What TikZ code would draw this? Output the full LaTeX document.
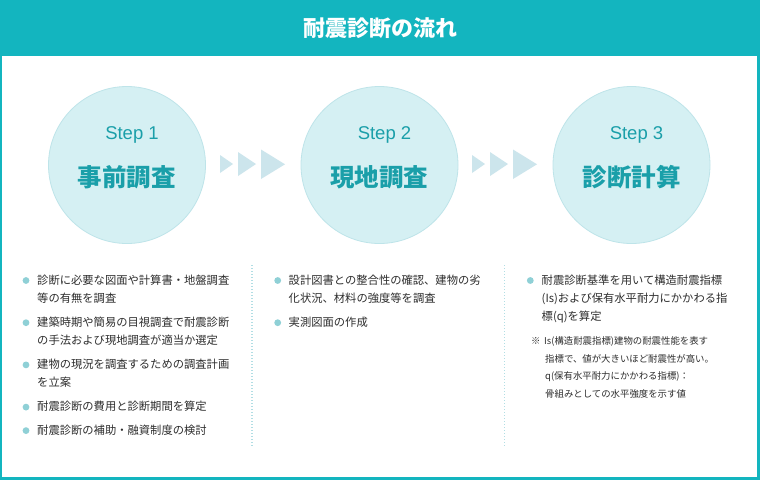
\documentclass[tikz,border=0pt]{standalone}
\usepackage{fontspec}
\setmainfont{Noto Sans CJK JP}
\newfontfamily\latinsans{Liberation Sans}
\definecolor{teal}{HTML}{13B5BF}
\definecolor{circfill}{HTML}{D5F0F3}
\definecolor{circedge}{HTML}{BEE4E9}
\definecolor{steptxt}{HTML}{1A9FA9}
\definecolor{arrowc}{HTML}{CCE5EC}
\definecolor{bulletc}{HTML}{8FD0D6}
\definecolor{txt}{HTML}{2E2E2E}
\definecolor{divc}{HTML}{B2DEE4}
\tikzset{
  circ/.style={circle, fill=circfill, draw=circedge, line width=0.8pt, minimum size=157pt, inner sep=0},
  steplbl/.style={anchor=base, inner sep=0, text=steptxt, font=\latinsans\fontsize{18.5}{20}\selectfont},
  mainlbl/.style={anchor=base, inner sep=0, text=steptxt, font=\bfseries\fontsize{24.5}{26}\selectfont},
  body/.style={anchor=base west, inner sep=0, text=txt, font=\fontsize{11.3}{13}\selectfont},
  note/.style={anchor=base west, inner sep=0, text=txt, font=\fontsize{9.4}{11}\selectfont},
  bul/.style={circle, fill=bulletc, minimum size=6.8pt, inner sep=0},
  tri/.style={fill=arrowc},
  divline/.style={draw=divc, line width=1.3pt, dash pattern=on 1.3pt off 1.7pt},
}
\begin{document}
\begin{tikzpicture}[x=1pt, y=-1pt]
\useasboundingbox (0,0) rectangle (760,480);
% frame
\fill[teal] (0,0) rectangle (760,480);
\fill[white] (2,56) rectangle (757,477);
\node[anchor=base, inner sep=0, text=white, font=\bfseries\fontsize{22}{24}\selectfont] (title) at (380,36) {耐震診断の流れ};

% circles
\node[circ] (s1) at (127,165) {};
\node[circ] (s2) at (379.5,165) {};
\node[circ] (s3) at (631.5,165) {};
\node[steplbl] (s1t) at (132,139.6) {Step 1};
\node[steplbl] (s2t) at (384.5,139.6) {Step 2};
\node[steplbl] (s3t) at (636.5,139.6) {Step 3};
\node[mainlbl] (s1m) at (126.5,186) {事前調査};
\node[mainlbl] (s2m) at (379,186) {現地調査};
\node[mainlbl] (s3m) at (631.5,186) {診断計算};

% arrow triangles
\foreach \dx in {0,252}{
  \fill[tri] (220+\dx,155) -- (220+\dx,173) -- (233+\dx,164) -- cycle;
  \fill[tri] (238+\dx,152) -- (238+\dx,176) -- (256+\dx,164) -- cycle;
  \fill[tri] (261+\dx,149.5) -- (261+\dx,179) -- (285+\dx,164.3) -- cycle;
}

% dividers
\coordinate (d1a) at (252,265); \coordinate (d1b) at (252,447);
\coordinate (d2a) at (504.5,265); \coordinate (d2b) at (504.5,447);
\draw[divline] (d1a) -- (d1b);
\draw[divline] (d2a) -- (d2b);

% column 1
\node[bul] (b11) at (26,280.5) {};
\node[body] (t11a) at (37,284.3) {診断に必要な図面や計算書・地盤調査};
\node[body] (t11b) at (37,302.5) {等の有無を調査};
\node[bul] (b12) at (26,322.7) {};
\node[body] (t12a) at (37,326.5) {建築時期や簡易の目視調査で耐震診断};
\node[body] (t12b) at (37,344.7) {の手法および現地調査が適当か選定};
\node[bul] (b13) at (26,364.9) {};
\node[body] (t13a) at (37,368.7) {建物の現況を調査するための調査計画};
\node[body] (t13b) at (37,386.9) {を立案};
\node[bul] (b14) at (26,407.1) {};
\node[body] (t14a) at (37,410.9) {耐震診断の費用と診断期間を算定};
\node[bul] (b15) at (26,430.6) {};
\node[body] (t15a) at (37,434.4) {耐震診断の補助・融資制度の検討};

% column 2
\node[bul] (b21) at (277.7,280.5) {};
\node[body] (t21a) at (288.5,284.3) {設計図書との整合性の確認、建物の劣};
\node[body] (t21b) at (288.5,302.5) {化状況、材料の強度等を調査};
\node[bul] (b22) at (277.7,322.7) {};
\node[body] (t22a) at (288.5,326.5) {実測図面の作成};

% column 3
\node[bul] (b31) at (530.3,280.5) {};
\node[body] (t31a) at (541.5,284.3) {耐震診断基準を用いて構造耐震指標};
\node[body] (t31b) at (541.5,302.5) {(Is)および保有水平耐力にかかわる指};
\node[body] (t31c) at (541.5,320.7) {標(q)を算定};
\node[note] (n0) at (531,344.5) {※};
\node[note] (n1) at (544,344.5) {Is(構造耐震指標)建物の耐震性能を表す};
\node[note] (n2) at (545,362) {指標で、値が大きいほど耐震性が高い。};
\node[note] (n3) at (545,379.5) {q(保有水平耐力にかかわる指標)：};
\node[note] (n4) at (545,397) {骨組みとしての水平強度を示す値};
\end{tikzpicture}
\end{document}
